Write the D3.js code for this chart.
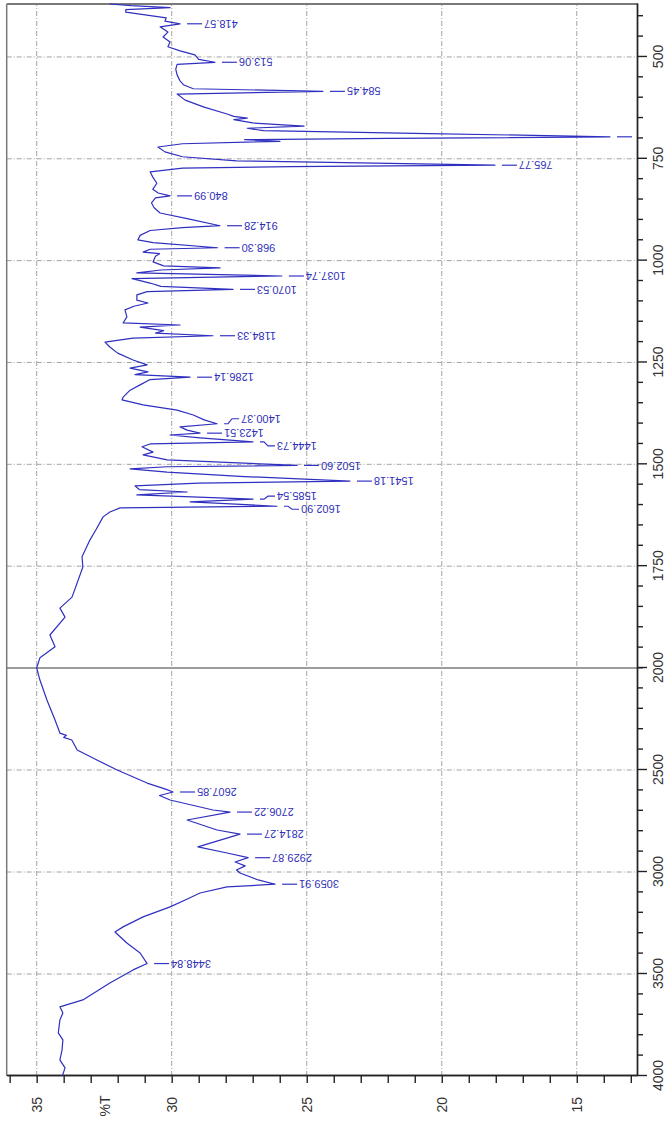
<!DOCTYPE html>
<html lang="en">
<head>
<meta charset="UTF-8">
<title>IR spectrum</title>
<script src="https://d3js.org/d3.v7.min.js"></script>
<style>
  html, body { margin: 0; padding: 0; background: #fff; }
  svg { display: block; font-family: "Liberation Sans", Arial, sans-serif; }
</style>
</head>
<body>
<div id="chart"></div>
<script>
// spectrum: [wavenumber (cm-1), %T]
const fingerprint = [
  [370, 32.3], [374, 31.5], [379, 30.06], [384, 31.7], [390, 31.7], [404, 30.2], [412, 30.25],
  [418.57, 29.69], [426, 30.43], [439, 30.14], [451, 30.32], [463, 30.06], [475, 30.14],
  [485, 29.69], [495, 29.14], [506, 29.0], [513.06, 28.4], [518, 29.8], [530, 29.85],
  [544, 29.8], [558, 29.7], [569, 29.55], [578, 29.2], [584.45, 24.4], [591, 29.8],
  [606, 29.5], [623, 28.8], [640, 27.95], [646, 27.7], [650, 27.2], [654, 27.7], [662, 27.0],
  [670, 25.1], [675, 27.2], [681, 26.6], [688, 20.5], [696, 13.77], [700, 22.0], [703, 27.3],
  [707, 25.99], [713, 29.6], [721, 30.51], [733, 30.25], [745, 29.6], [755, 27.6],
  [765.77, 18.03], [769, 25.6], [773, 29.6], [782, 30.8], [795, 30.7], [810, 30.55],
  [825, 30.7], [834, 30.5], [840.99, 30.06], [846, 30.6], [858, 30.75], [870, 30.65],
  [883, 30.43], [897, 29.43], [914.28, 28.21], [919, 29.6], [926, 30.8], [938, 31.17],
  [949, 31.25], [956, 30.69], [968.30, 28.3], [972, 30.8], [979, 31.06], [983, 30.45],
  [989, 30.6], [1003, 30.69]
];
const midRange = [
  [1003, 30.69], [1013, 30.3], [1018, 28.21], [1023, 30.4], [1030, 31.29], [1037.74, 25.92],
  [1044, 31.47], [1055, 30.8], [1063, 30.4], [1070.53, 27.73], [1076, 30.91], [1084, 31.29],
  [1097, 31.29], [1104, 30.88], [1112, 31.4], [1121, 31.73], [1138, 31.66], [1153, 31.8],
  [1158, 29.69], [1163, 31.17], [1172, 30.3], [1178, 30.6], [1184.33, 28.47], [1190, 31.43],
  [1200, 32.47], [1212, 32.29], [1227, 32.0], [1244, 31.43], [1256, 30.91], [1264, 31.54],
  [1273, 30.88], [1280, 31.36], [1286.14, 29.32], [1292, 30.8], [1305, 31.17], [1318, 31.54],
  [1335, 31.8], [1342, 31.84], [1354, 31.06], [1367, 29.8], [1379, 29.2], [1391, 28.8],
  [1400.37, 28.32], [1408, 29.69], [1416, 29.43], [1423.51, 28.95], [1428, 30.06],
  [1435, 28.95], [1444.73, 26.99], [1450, 30.8], [1457, 31.1], [1470, 30.69], [1477, 31.06],
  [1489, 30.17], [1502.60, 25.36], [1506, 30.17], [1511, 31.54], [1519, 30.17], [1530, 27.3],
  [1541.18, 23.4], [1546, 29.0], [1553, 31.36], [1562, 31.2], [1568, 29.43], [1575, 31.29],
  [1585.54, 26.99], [1592, 29.32], [1602.90, 26.1], [1607, 31.91], [1617, 32.29],
  [1629, 32.54], [1660, 32.8], [1686, 33.03], [1727, 33.32], [1752, 33.29], [1826, 33.69],
  [1853, 34.14], [1875, 33.95], [1919, 34.51], [1948, 34.32], [1975, 34.88], [2000, 35.0]
];
const highRange = [
  [2000, 35.0], [2059, 34.88], [2157, 34.62], [2255, 34.32], [2319, 34.14], [2330, 33.9],
  [2340, 34.0], [2353, 33.7], [2402, 33.5], [2451, 32.77], [2500, 32.02], [2564, 30.91],
  [2595, 30.2], [2607.85, 29.95], [2625, 30.45], [2647, 30.06], [2696, 28.47],
  [2706.22, 27.84], [2745, 29.43], [2794, 28.32], [2814.27, 27.47], [2877, 29.03],
  [2907, 27.95], [2929.87, 27.17], [2951, 27.65], [2970, 27.28], [2990, 27.6], [3005, 27.47],
  [3039, 26.8], [3059.91, 26.17], [3073, 27.95], [3103, 28.95], [3137, 29.5], [3171, 30.06],
  [3220, 31.06], [3269, 31.8], [3294, 32.1], [3348, 31.66], [3397, 31.17], [3448.84, 30.91],
  [3480, 31.43], [3544, 32.29], [3627, 33.29], [3661, 34.14], [3691, 34.03], [3725, 34.14],
  [3789, 34.2], [3823, 34.03], [3872, 34.06], [3921, 34.14], [3960, 33.95], [4000, 34.05]
];

const peakLabels = ["418.57", "513.06", "584.45", "765.77", "840.99", "914.28", "968.30",
  "1037.74", "1070.53", "1184.33", "1286.14", "1400.37", "1423.51", "1444.73", "1502.60",
  "1541.18", "1585.54", "1602.90", "2607.85", "2706.22", "2814.27", "2929.87", "3059.91",
  "3448.84"];
const unlabeledPeaks = [696];   // label falls outside the frame, only the leader shows

const wnMajor = [500, 750, 1000, 1250, 1500, 1750, 2000, 2500, 3000, 3500, 4000];
const wnGrid = [500, 750, 1000, 1250, 1500, 1750, 2500, 3000, 3500];
const tMajor = [35, 30, 25, 20, 15];

const W = 670, H = 1129;
const spectrum = fingerprint.concat(midRange, highRange);

const svg = d3.select('#chart').append('svg')
  .attr('width', W)
  .attr('height', H);

// drawn as an ordinary spectrum, then turned a quarter turn like the scan
const g = svg.append('g').attr('transform', `translate(0,${H}) rotate(-90)`);

// wavenumber axis has a scale change at 2000
const x = d3.scaleLinear().domain([4000, 2000, 370]).range([53, 461, 1125]);
const y = d3.scaleLinear().domain([36.11, 12.77]).range([6.7, 637]);

const [x0, x1] = [x(4000), x(370)];
const [y0, y1] = [y.range()[0], y.range()[1]];

// grid
g.append('g').selectAll('line')
  .data(tMajor)
  .join('line')
  .attr('x1', x0).attr('x2', x1)
  .attr('y1', d => y(d)).attr('y2', d => y(d))
  .attr('stroke', '#9a9a9a')
  .attr('stroke-width', 0.9)
  .attr('stroke-dasharray', '5,2,1,2');

g.append('g').selectAll('line')
  .data(wnGrid)
  .join('line')
  .attr('x1', d => x(d)).attr('x2', d => x(d))
  .attr('y1', y0).attr('y2', y1)
  .attr('stroke', '#9a9a9a')
  .attr('stroke-width', 0.9)
  .attr('stroke-dasharray', '5,2,1,2');

// scale break line
g.append('line')
  .attr('x1', x(2000)).attr('x2', x(2000))
  .attr('y1', y0).attr('y2', y1 + 6)
  .attr('stroke', '#9c9c9c')
  .attr('stroke-width', 2);

// frame (top and right of the unrotated plot)
g.append('line')
  .attr('x1', x0).attr('x2', x1).attr('y1', y0).attr('y2', y0)
  .attr('stroke', '#7a7a7a').attr('stroke-width', 1.5);
g.append('line')
  .attr('x1', x1).attr('x2', x1).attr('y1', y0).attr('y2', y1)
  .attr('stroke', '#7a7a7a').attr('stroke-width', 2);

// axes
const wnMinor = d3.range(400, 2000, 50).concat(d3.range(2100, 4000, 100))
  .filter(v => !wnMajor.includes(v));
const tMinor = d3.range(13, 37).filter(v => !tMajor.includes(v));

function styleAxis(sel) {
  sel.selectAll('path, line').attr('stroke', '#222').attr('stroke-width', 1.4);
  sel.selectAll('text')
    .attr('font-family', '"Liberation Sans", Arial, sans-serif')
    .attr('font-size', 14)
    .attr('fill', '#333');
}

g.append('g')
  .attr('transform', `translate(0,${y1})`)
  .call(d3.axisBottom(x).tickValues(wnMinor).tickSize(6).tickSizeOuter(0).tickFormat(''))
  .call(styleAxis);
g.append('g')
  .attr('transform', `translate(0,${y1})`)
  .call(d3.axisBottom(x).tickValues(wnMajor).tickSize(10).tickPadding(6).tickSizeOuter(0).tickFormat(d3.format('d')))
  .call(styleAxis);

g.append('g')
  .attr('transform', `translate(${x0},0)`)
  .call(d3.axisLeft(y).tickValues(tMinor).tickSize(7).tickSizeOuter(0).tickFormat(''))
  .call(styleAxis);
g.append('g')
  .attr('transform', `translate(${x0},0)`)
  .call(d3.axisLeft(y).tickValues(tMajor).tickSize(7).tickPadding(14).tickSizeOuter(0))
  .call(styleAxis);

g.append('text')
  .attr('x', 23)
  .attr('y', y(32.45))
  .attr('dy', '0.35em')
  .attr('text-anchor', 'middle')
  .attr('font-size', 14)
  .attr('fill', '#333')
  .text('%T');

// spectrum trace
g.append('path')
  .datum(spectrum)
  .attr('fill', 'none')
  .attr('stroke', '#2f2fc0')
  .attr('stroke-width', 1.2)
  .attr('stroke-linejoin', 'round')
  .attr('d', d3.line().x(d => x(d[0])).y(d => y(d[1])));

// peak picks
const tipT = wn => spectrum.find(d => d[0] === wn)[1];
const nudge = { "1400.37": -5, "1444.73": 4, "1585.54": -3, "1602.90": 3 };

const peaks = peakLabels.map(s => ({ wn: +s, label: s, shift: nudge[s] || 0 }))
  .concat(unlabeledPeaks.map(wn => ({ wn, label: '', shift: 0 })));

const pk = g.append('g').selectAll('g')
  .data(peaks)
  .join('g');

pk.append('path')
  .attr('fill', 'none')
  .attr('stroke', '#3535c4')
  .attr('stroke-width', 1.2)
  .attr('d', d => {
    const px = x(d.wn), py = y(tipT(d.wn));
    const lx = px - d.shift;
    return `M${px},${py + 7}L${px},${py + 11}L${lx},${py + 15}L${lx},${py + 22}`;
  });

pk.append('text')
  .attr('transform', d => `translate(${x(d.wn) - d.shift},${y(tipT(d.wn)) + 24}) rotate(-90)`)
  .attr('text-anchor', 'end')
  .attr('dy', '0.35em')
  .attr('font-size', 11)
  .attr('fill', '#3030b8')
  .text(d => d.label);
</script>
</body>
</html>
